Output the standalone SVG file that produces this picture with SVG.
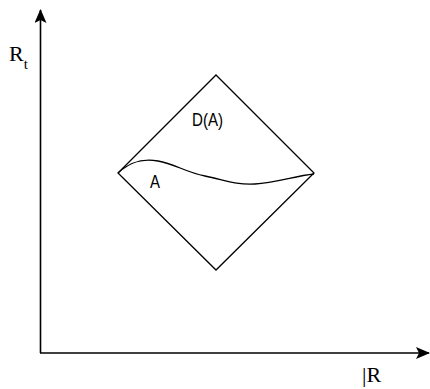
<svg xmlns="http://www.w3.org/2000/svg" width="430" height="389" viewBox="0 0 430 389">
<style>
.ln{stroke:#000;stroke-width:1.3;fill:none}
.ax{stroke:#000;stroke-width:1.6;fill:none}
.sans{font-family:"Liberation Sans",Arial,sans-serif;font-size:18px;fill:#000}
.serif{font-family:"Liberation Serif","Times New Roman",serif;font-size:22px;fill:#000}
</style>
<defs>
<marker id="ah" viewBox="0 0 14 12" refX="13" refY="6" markerWidth="14" markerHeight="12" markerUnits="userSpaceOnUse" orient="auto">
<path d="M0,0 L14,6 L0,12 L3,6 Z" fill="#000"/>
</marker>
</defs>
<g id="connectors">
<line class="ax" x1="40.5" y1="353" x2="40.5" y2="10" marker-end="url(#ah)"/>
<line class="ax" x1="40" y1="353" x2="429" y2="353" marker-end="url(#ah)"/>
</g>
<g id="diamond">
<polygon class="ln" points="216,75 314,173 216,270 118,173"/>
</g>
<g id="curve">
<path class="ln" d="M118,173 C130,162 142,158 158,161 C175,164 185,172 205,176 C225,180 235,185 255,184 C275,183 295,176 314,174"/>
</g>
<g id="labels">
<text class="sans" x="192" y="126" textLength="31" lengthAdjust="spacingAndGlyphs">D(A)</text>
<text class="sans" x="150" y="188" textLength="10" lengthAdjust="spacingAndGlyphs">A</text>
<text class="serif" x="9" y="61">R<tspan font-size="15" dy="8">t</tspan></text>
<text class="serif" x="362" y="382">|R</text>
</g>
</svg>
